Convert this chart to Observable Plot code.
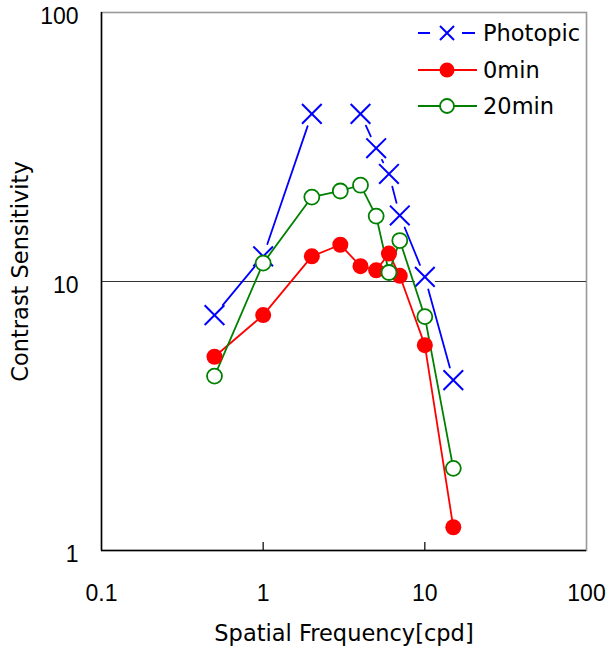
<!DOCTYPE html>
<html>
<head>
<meta charset="utf-8">
<script src="https://cdn.jsdelivr.net/npm/d3@7"></script>
<script src="https://cdn.jsdelivr.net/npm/@observablehq/plot@0.6"></script>
<style>
  html, body { margin: 0; padding: 0; background: #fff; }
  #wrap { position: relative; width: 610px; height: 648px; font-family: "DejaVu Sans", sans-serif; }
  #legend { position: absolute; left: 418px; top: 15px; }
  .row { display: flex; align-items: center; height: 36.5px; font-size: 22.5px; color: #000; }
  .row svg { display: block; margin-right: 5px; }
</style>
</head>
<body>
<div id="wrap"></div>
<script>
// ---- data ----
const freqPhotopic = [0.5, 1, 2, 4, 5, 6, 7, 10, 15];
const photopic     = [7.5, 12.4, 42, 42, 31.3, 25.1, 17.6, 10.4, 4.3];
const photopicRun  = [1, 1, 1, 2, 2, 2, 2, 2, 2];   // line is broken between 2 and 4 cpd
const freq   = [0.5, 1, 2, 3, 4, 5, 6, 7, 10, 15];
const min0   = [5.25, 7.5, 12.4, 13.7, 11.4, 11.0, 12.7, 10.5, 5.8, 1.22];
const min20  = [4.45, 11.7, 20.6, 21.7, 22.8, 17.5, 10.8, 14.2, 7.4, 2.02];
const xTicks = [0.1, 1, 10, 100];
const yTicks = [1, 10, 100];
const seriesNames = ["Photopic", "0min", "20min"];
const colors = {Photopic: "#0000ff", "0min": "#ff0000", "20min": "#008000"};

const photoData = freqPhotopic.map((f, i) => ({f, v: photopic[i], run: photopicRun[i]}));
const photoSegs = [];
for (let i = 1; i < photoData.length; i++) {
  if (photoData[i].run === photoData[i - 1].run) photoSegs.push({a: photoData[i - 1], b: photoData[i]});
}
const d0  = freq.map((f, i) => ({f, v: min0[i]}));
const d20 = freq.map((f, i) => ({f, v: min20[i]}));

const W = 610, H = 648, mt = 12, mr = 24, mb = 98, ml = 101;
const font = "DejaVu Sans, sans-serif";
const tickFont = "Liberation Sans, Arial, sans-serif";

const chart = Plot.plot({
  width: W, height: H,
  marginTop: mt, marginRight: mr, marginBottom: mb, marginLeft: ml,
  style: {fontFamily: font, background: "#fff", color: "#000"},
  x: {type: "log", domain: [0.1, 100]},
  y: {type: "log", domain: [1, 100]},
  marks: [
    Plot.frame({stroke: "#999", strokeWidth: 1.6}),
    Plot.ruleY([10], {stroke: "#333", strokeWidth: 1.2}),
    Plot.ruleX([0.1], {stroke: "#000", strokeWidth: 1.5}),
    Plot.ruleY([1], {stroke: "#000", strokeWidth: 1.5}),
    Plot.tickX([1, 10], {stroke: "#000", strokeWidth: 1.2, insetTop: H - mt - mb - 8}),
    Plot.axisX({ticks: xTicks, tickSize: 0, tickPadding: 34, fontSize: 23, fontFamily: tickFont, tickFormat: d => String(d), label: null}),
    Plot.axisY({ticks: yTicks, tickSize: 0, tickPadding: 23, fontSize: 23, fontFamily: tickFont, tickFormat: d => String(d), dy: 4, label: null}),
    Plot.text(["Spatial Frequency[cpd]"], {frameAnchor: "bottom", dy: 83, fontSize: 22.5, text: d => d, lineAnchor: "middle", textAnchor: "middle"}),
    Plot.text(["Contrast Sensitivity"], {frameAnchor: "left", dx: -81, dy: -10, rotate: -90, fontSize: 22.5, text: d => d, lineAnchor: "middle", textAnchor: "middle"}),
    // Photopic (drawn first, behind)
    Plot.dot(photoData, {x: "f", y: "v", r: 11, fill: "#fff", stroke: null}),
    Plot.arrow(photoSegs, {x1: d => d.a.f, y1: d => d.a.v, x2: d => d.b.f, y2: d => d.b.v,
      stroke: colors.Photopic, strokeWidth: 1.8, headLength: 0, insetStart: 13, insetEnd: 13}),
    Plot.dot(photoData, {x: "f", y: "v", symbol: "times", r: 9, stroke: colors.Photopic, strokeWidth: 2}),
    // 0min and 20min
    Plot.line(d0, {x: "f", y: "v", stroke: colors["0min"], strokeWidth: 1.8}),
    Plot.line(d20, {x: "f", y: "v", stroke: colors["20min"], strokeWidth: 1.8}),
    Plot.dot(d0, {x: "f", y: "v", r: 8, fill: colors["0min"], stroke: null}),
    Plot.dot(d20, {x: "f", y: "v", r: 7.5, fill: "#fff", stroke: colors["20min"], strokeWidth: 1.8})
  ]
});

const wrap = document.getElementById("wrap");
wrap.appendChild(chart);

// legend
const legend = document.createElement("div");
legend.id = "legend";
const sym = {
  Photopic: `<line x1="0" y1="12" x2="12" y2="12" stroke="#0000ff" stroke-width="2"/><line x1="44" y1="12" x2="57" y2="12" stroke="#0000ff" stroke-width="2"/><path d="M22,5L36,19M36,5L22,19" stroke="#0000ff" stroke-width="2" fill="none"/>`,
  "0min": `<line x1="0" y1="12" x2="59" y2="12" stroke="#ff0000" stroke-width="2"/><circle cx="29" cy="12" r="7.5" fill="#ff0000"/>`,
  "20min": `<line x1="0" y1="12" x2="59" y2="12" stroke="#008000" stroke-width="2"/><circle cx="29" cy="12" r="7" fill="#fff" stroke="#008000" stroke-width="1.8"/>`
};
legend.innerHTML = seriesNames.map(n =>
  `<div class="row"><svg width="60" height="24">${sym[n]}</svg><span>${n}</span></div>`).join("");
wrap.appendChild(legend);
</script>
</body>
</html>
